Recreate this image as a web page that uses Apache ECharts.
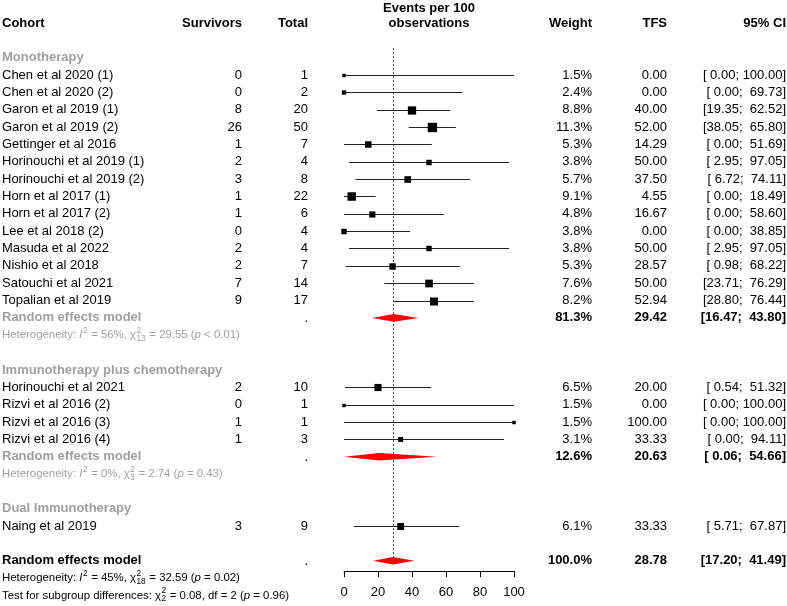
<!DOCTYPE html>
<html><head><meta charset="utf-8">
<script src="https://cdn.jsdelivr.net/npm/echarts@6/dist/echarts.min.js"></script>
<style>html,body{margin:0;padding:0;background:#fff}#c{width:787px;height:606px}</style>
</head><body><div id="c"></div>
<script>
// ---------- data ----------
const cohorts = ['Chen et al 2020 (1)','Chen et al 2020 (2)','Garon et al 2019 (1)','Garon et al 2019 (2)','Gettinger et al 2016','Horinouchi et al 2019 (1)','Horinouchi et al 2019 (2)','Horn et al 2017 (1)','Horn et al 2017 (2)','Lee et al 2018 (2)','Masuda et al 2022','Nishio et al 2018','Satouchi et al 2021','Topalian et al 2019','Horinouchi et al 2021','Rizvi et al 2016 (2)','Rizvi et al 2016 (3)','Rizvi et al 2016 (4)','Naing et al 2019'];
const survivors = [0,0,8,26,1,2,3,1,1,0,2,2,7,9,2,0,1,1,3];
const totals    = [1,2,20,50,7,4,8,22,6,4,4,7,14,17,10,1,1,3,9];
const weights   = [1.5,2.4,8.8,11.3,5.3,3.8,5.7,9.1,4.8,3.8,3.8,5.3,7.6,8.2,6.5,1.5,1.5,3.1,6.1];
const tfs       = [0,0,40,52,14.29,50,37.5,4.55,16.67,0,50,28.57,50,52.94,20,0,100,33.33,33.33];
const ciLow     = [0,0,19.35,38.05,0,2.95,6.72,0,0,0,2.95,0.98,23.71,28.80,0.54,0,0,0,5.71];
const ciHigh    = [100,69.73,62.52,65.80,51.69,97.05,74.11,18.49,58.60,38.85,97.05,68.22,76.29,76.44,51.32,100,100,94.11,67.87];
const groupOf   = [0,0,0,0,0,0,0,0,0,0,0,0,0,0,1,1,1,1,2];
const groupNames  = ['Monotherapy','Immunotherapy plus chemotherapy','Dual Immunotherapy'];
const groupWeight = [81.3, 12.6, null];
const groupTfs    = [29.42, 20.63, null];
const groupLow    = [16.47, 0.06, null];
const groupHigh   = [43.80, 54.66, null];
const groupI2     = ['56%','0%',null];
const groupDf     = ['13','3',null];
const groupChi    = ['29.55','2.74',null];
const groupP      = ['< 0.01','= 0.43',null];
const overall = {weight:100.0, tfs:28.78, low:17.20, high:41.49, i2:'45%', df:'18', chi:'32.59', p:'= 0.02'};
const subgroupTest = {chi:'0.08', df:'2', p:'= 0.96'};
const xTicks = [0,20,40,60,80,100];

// ---------- layout ----------
const FONT = '"Liberation Sans", Arial, sans-serif';
const GRAY = '#a0a0a0';
const COL = {cohort:2, surv:242, total:308, weight:592, tfs:667, ci:786, plotMid:429};

const rows = []; // display rows
const studyPts = [];
const diamonds = [];
let r = -1;
groupNames.forEach((g, gi) => {
  rows.push({r, kind:'group', label:g});
  r++;
  const idx = groupOf.map((v,i)=>v===gi?i:-1).filter(i=>i>=0);
  idx.forEach(i => {
    rows.push({r, kind:'study', i});
    studyPts.push([tfs[i], ciLow[i], ciHigh[i], r, weights[i]]);
    r++;
  });
  if (idx.length > 1) {
    rows.push({r, kind:'sub', gi});
    diamonds.push([groupTfs[gi], groupLow[gi], groupHigh[gi], r]);
    r++;
    rows.push({r, kind:'subhet', gi});
    r++;
  }
  r++; // blank
});
rows.push({r, kind:'overall'});
diamonds.push([overall.tfs, overall.low, overall.high, r]);
const overallRow = r;
rows.push({r:r+1, kind:'ovhet'});
rows.push({r:r+2, kind:'test'});
rows.push({r:-3, kind:'header'});

const f2 = v => v.toFixed(2);
const fmtCI = (lo, hi) => '[' + f2(lo).padStart(5,' ') + '; ' + f2(hi).padStart(6,' ') + ']';

const cv = document.createElement('canvas').getContext('2d');
function measure(t, size, it, bold) {
  cv.font = (it?'italic ':'') + (bold?'bold ':'') + size + 'px ' + FONT;
  return cv.measureText(t).width;
}
function txt(t, x, y, o) {
  o = o || {};
  return {type:'text', x, y, silent:true, style:{text:t, fill:o.color||'#000', fontSize:o.size||13,
    fontWeight:o.bold?'bold':'normal', fontStyle:o.it?'italic':'normal', fontFamily:FONT,
    align:o.align||'left', verticalAlign:'middle'}};
}
function segsLine(segs, x0, y, size, color) {
  const els = []; let x = x0; const ss = size*0.72;
  segs.forEach(s => {
    if (s.sup !== undefined || s.sub !== undefined) {
      let w = 0;
      if (s.sup) { els.push(txt(s.sup, x+0.5, y - size*0.42, {size:ss, color})); w = Math.max(w, measure(s.sup, ss)); }
      if (s.sub) { els.push(txt(s.sub, x+0.5, y + size*0.32, {size:ss, color})); w = Math.max(w, measure(s.sub, ss)); }
      x += w + 1;
    } else {
      els.push(txt(s.t, x, y, {size, color, it:s.it}));
      x += measure(s.t, size, s.it);
    }
  });
  return els;
}
const hetSegs = (i2, df, chi, p) => [{t:'Heterogeneity: '},{t:'I',it:true},{sup:'2'},{t:' = '+i2+', '},{t:'χ'},{sup:'2',sub:df},{t:' = '+chi+' ('},{t:'p',it:true},{t:' '+p+')'}];
const testSegs = t => [{t:'Test for subgroup differences: '},{t:'χ'},{sup:'2',sub:t.df},{t:' = '+t.chi+', df = '+t.df+' ('},{t:'p',it:true},{t:' '+t.p+')'}];

function renderText(params, api) {
  const row = rows[params.dataIndex];
  const y = api.coord([0, row.r])[1];
  const c = [];
  const HS = 11.4;
  switch (row.kind) {
    case 'header':
      c.push(txt('Cohort', COL.cohort, y, {bold:true}));
      c.push(txt('Survivors', COL.surv, y, {bold:true, align:'right'}));
      c.push(txt('Total', COL.total, y, {bold:true, align:'right'}));
      c.push(txt('Events per 100', COL.plotMid, y-15, {bold:true, align:'center'}));
      c.push(txt('observations', COL.plotMid, y, {bold:true, align:'center'}));
      c.push(txt('Weight', COL.weight, y, {bold:true, align:'right'}));
      c.push(txt('TFS', COL.tfs, y, {bold:true, align:'right'}));
      c.push(txt('95% CI', COL.ci, y, {bold:true, align:'right'}));
      break;
    case 'group':
      c.push(txt(row.label, COL.cohort, y, {bold:true, color:GRAY}));
      break;
    case 'study': {
      const i = row.i;
      c.push(txt(cohorts[i], COL.cohort, y));
      c.push(txt(String(survivors[i]), COL.surv, y, {align:'right'}));
      c.push(txt(String(totals[i]), COL.total, y, {align:'right'}));
      c.push(txt(weights[i].toFixed(1)+'%', COL.weight, y, {align:'right'}));
      c.push(txt(f2(tfs[i]), COL.tfs, y, {align:'right'}));
      c.push(txt(fmtCI(ciLow[i], ciHigh[i]), COL.ci, y, {align:'right'}));
      break; }
    case 'sub': {
      const g = row.gi;
      c.push(txt('Random effects model', COL.cohort, y, {bold:true, color:GRAY}));
      c.push(txt('.', COL.total, y+1, {align:'right'}));
      c.push(txt(groupWeight[g].toFixed(1)+'%', COL.weight, y, {bold:true, align:'right'}));
      c.push(txt(f2(groupTfs[g]), COL.tfs, y, {bold:true, align:'right'}));
      c.push(txt(fmtCI(groupLow[g], groupHigh[g]), COL.ci, y, {bold:true, align:'right'}));
      break; }
    case 'subhet': {
      const g = row.gi;
      segsLine(hetSegs(groupI2[g], groupDf[g], groupChi[g], groupP[g]), COL.cohort, y, HS, GRAY).forEach(e=>c.push(e));
      break; }
    case 'overall':
      c.push(txt('Random effects model', COL.cohort, y, {bold:true}));
      c.push(txt('.', COL.total, y+1, {align:'right'}));
      c.push(txt(overall.weight.toFixed(1)+'%', COL.weight, y, {bold:true, align:'right'}));
      c.push(txt(f2(overall.tfs), COL.tfs, y, {bold:true, align:'right'}));
      c.push(txt(fmtCI(overall.low, overall.high), COL.ci, y, {bold:true, align:'right'}));
      break;
    case 'ovhet':
      segsLine(hetSegs(overall.i2, overall.df, overall.chi, overall.p), COL.cohort, y, HS, '#000').forEach(e=>c.push(e));
      break;
    case 'test':
      segsLine(testSegs(subgroupTest), COL.cohort, y, HS, '#000').forEach(e=>c.push(e));
      break;
  }
  return {type:'group', children:c};
}

function renderStudy(params, api) {
  const est = api.value(0), lo = api.value(1), hi = api.value(2), row = api.value(3), w = api.value(4);
  const pc = api.coord([est, row]), pl = api.coord([lo, row]), ph = api.coord([hi, row]);
  const y = Math.round(pc[1]) + 0.5;
  const s = 2.8*Math.sqrt(w);
  return {type:'group', children:[
    {type:'line', shape:{x1:pl[0], y1:y, x2:ph[0], y2:y}, style:{stroke:'#222', lineWidth:1}},
    {type:'rect', shape:{x:pc[0]-s/2, y:y-s/2, width:s, height:s}, style:{fill:'#000'}}
  ]};
}
function renderDiamond(params, api) {
  const est = api.value(0), lo = api.value(1), hi = api.value(2), row = api.value(3);
  const pc = api.coord([est, row]), pl = api.coord([lo, row]), ph = api.coord([hi, row]);
  const y = pc[1], h = 3.8;
  return {type:'polygon', shape:{points:[[pl[0],y],[pc[0],y-h],[ph[0],y],[pc[0],y+h]]}, style:{fill:'#ff0000'}};
}
function renderRef(params, api) {
  const a = api.coord([api.value(0), api.value(1)]), b = api.coord([api.value(0), api.value(2)]);
  const x = Math.round(a[0]) + 0.5;
  return {type:'line', shape:{x1:x, y1:a[1], x2:x, y2:b[1]}, style:{stroke:'#444', lineWidth:1, lineDash:[2,2]}};
}

const chart = echarts.init(document.getElementById('c'), null, {renderer:'canvas'});
chart.setOption({
  animation:false,
  grid:{left:344, right:273, top:5.6, bottom:34.8, containLabel:false},
  xAxis:{type:'value', min:0, max:100, interval:20, position:'bottom',
    axisLine:{show:true, onZero:false, lineStyle:{color:'#000', width:1}},
    axisTick:{show:true, length:6, lineStyle:{color:'#000'}},
    axisLabel:{margin:15, color:'#000', fontSize:13, fontFamily:FONT,
      customValues: xTicks},
    splitLine:{show:false}},
  yAxis:{type:'value', inverse:true, min:-4, max:28.6, show:false},
  series:[
    {type:'custom', renderItem:renderRef, data:[[overall.tfs, -1.55, overallRow-0.2]], encode:{x:0,y:1}, silent:true, z:1},
    {type:'custom', renderItem:renderStudy, data:studyPts, encode:{x:0,y:3}, silent:true, z:2},
    {type:'custom', renderItem:renderDiamond, data:diamonds, encode:{x:0,y:3}, silent:true, z:3},
    {type:'custom', renderItem:renderText, data:rows.map(o=>[0,o.r]), encode:{x:0,y:1}, silent:true, z:4}
  ]
});
</script></body></html>
